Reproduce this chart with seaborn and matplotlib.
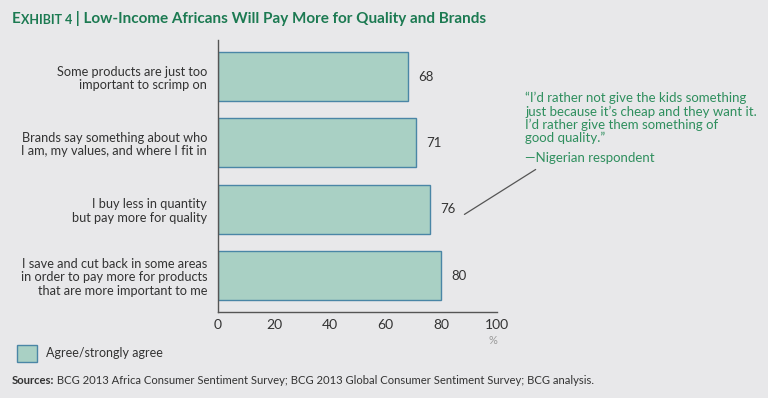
import matplotlib.pyplot as plt
import seaborn as sns
import pandas as pd
from matplotlib.patches import Rectangle

statements = [
    "Some products are just too\nimportant to scrimp on",
    "Brands say something about who\nI am, my values, and where I fit in",
    "I buy less in quantity\nbut pay more for quality",
    "I save and cut back in some areas\nin order to pay more for products\nthat are more important to me",
]
agree_pct = [68, 71, 76, 80]
x_ticks = [0, 20, 40, 60, 80, 100]
series_name = "Agree/strongly agree"

BG = "#e8e8ea"
FILL = "#a9d0c4"
EDGE = "#4a86a6"
GREEN = "#1c7a52"
QUOTE = "#2f8f5e"
TEXT = "#333333"

sns.set_theme(style="white")
plt.rcParams['font.family'] = ['Lato', 'DejaVu Sans']

df = pd.DataFrame({'statement': statements, 'pct': agree_pct})

fig = plt.figure(figsize=(7.68, 3.98), dpi=100, facecolor=BG)
ax = fig.add_axes([0.284, 0.216, 0.363, 0.683])
ax.set_facecolor(BG)

sns.barplot(data=df, x='pct', y='statement', orient='h', color=FILL,
            edgecolor=EDGE, linewidth=1.0, width=0.74, saturation=1, ax=ax)

for i, v in enumerate(agree_pct):
    ax.text(v + 3.8, i, str(v), va='center', ha='left', fontsize=9.5, color=TEXT)

ax.set_xlim(0, 100)
ax.set_ylim(3.55, -0.55)
ax.set_xticks(x_ticks)
ax.set_xticklabels([str(t) for t in x_ticks], fontsize=10, color=TEXT)
ax.tick_params(axis='y', length=0, pad=8, labelsize=9.2, labelcolor=TEXT)
for lbl in ax.get_yticklabels():
    lbl.set_linespacing(1.15)
ax.tick_params(axis='x', length=0, pad=5)
ax.set_xlabel('')
ax.set_ylabel('')
for s in ['top', 'right']:
    ax.spines[s].set_visible(False)
for s in ['left', 'bottom']:
    ax.spines[s].set_color('#555555')
    ax.spines[s].set_linewidth(1.0)

fig.text(0.647, 0.145, '%', ha='right', va='center', fontsize=8, color='#999999')

# quote callout
ax.annotate('', xy=(76 + 11.5, 2.1), xycoords='data',
            xytext=(538 / 768, 1 - 168 / 398), textcoords='figure fraction',
            arrowprops=dict(arrowstyle='-', color='#555555', lw=0.9))
fig.text(525 / 768, 1 - 92 / 398,
         "\u201cI\u2019d rather not give the kids something\n"
         "just because it\u2019s cheap and they want it.\n"
         "I\u2019d rather give them something of\n"
         "good quality.\u201d",
         ha='left', va='top', fontsize=9.5, color=QUOTE, linespacing=1.08)
fig.text(525 / 768, 1 - 158 / 398, "\u2014Nigerian respondent",
         ha='left', va='center', fontsize=9.5, color=QUOTE)

# title with small caps label
t1 = fig.text(12 / 768, 1 - 19 / 398, 'E', ha='left', va='center',
              fontsize=11, fontweight='bold', color=GREEN)
t2 = ax.annotate('XHIBIT 4', xy=(1, 0), xycoords=t1, ha='left', va='bottom',
                 fontsize=9, fontweight='bold', color=GREEN)
ax.annotate(' | Low-Income Africans Will Pay More for Quality and Brands',
            xy=(1, 0), xycoords=t2, ha='left', va='bottom',
            fontsize=11, fontweight='bold', color=GREEN)

# legend
fig.patches.append(Rectangle((17 / 768, 1 - 362 / 398), 20 / 768, 17 / 398,
                             transform=fig.transFigure, facecolor=FILL,
                             edgecolor=EDGE, linewidth=1.0))
fig.text(46 / 768, 1 - 353 / 398, series_name, ha='left', va='center',
         fontsize=9, color=TEXT)

# sources
s1 = fig.text(12 / 768, 1 - 381 / 398, 'Sources:', ha='left', va='center',
              fontsize=8.1, fontweight='bold', color=TEXT)
ax.annotate(' BCG 2013 Africa Consumer Sentiment Survey; BCG 2013 Global Consumer '
            'Sentiment Survey; BCG analysis.', xy=(1, 0), xycoords=s1,
            ha='left', va='bottom', fontsize=8.1, color=TEXT)

fig.savefig('out.png', dpi=100, facecolor=BG)
